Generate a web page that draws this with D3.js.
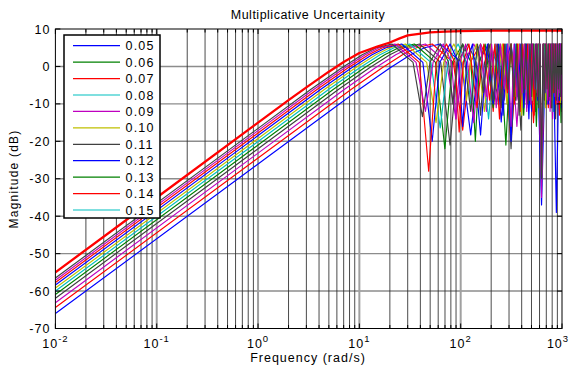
<!DOCTYPE html>
<html><head><meta charset="utf-8">
<script src="https://cdn.jsdelivr.net/npm/d3@7"></script>
<style>body{margin:0;background:#fff}svg{display:block}text{font-family:"Liberation Sans",Arial,Helvetica,sans-serif;fill:#000}</style>
</head><body><svg id="c" width="571" height="367"></svg>
<script>
// ---- data ----
const labels = ["0.05","0.06","0.07","0.08","0.09","0.10","0.11","0.12","0.13","0.14","0.15"];
const legendColors = ["#0000ff","#008000","#ff0000","#00bfbf","#bf00bf","#bfbf00","#404040","#0000ff","#008000","#ff0000","#00bfbf"];
const lineColors = ["#0000ff","#ff0000","#bf00bf","#404040","#008000","#00bfbf","#bfbf00","#0000ff","#ff0000","#bf00bf","#404040"];

const tau005 = [[0.01,-66.0],[10,-6.1],[20,-0.4],[32,3.1],[44,5.0],[62.83,6.0],[101.6,1.1],[125.7,-18.3],[149.6,1.1],[188.5,6.0],[227.4,1.1],[251.3,-14.8],[275.4,1.1],[314.2,6.0],[377.0,-10],[439.8,6.0],[502.7,-12],[565.5,6.0],[628.3,-37],[691.2,6.0],[754.0,-9],[816.8,6.0],[879.6,-39],[942.5,6.0],[1000,-11.5]];
const tau006 = [[0.01,-64.4],[8.333,-6.1],[16.67,-0.4],[26.67,3.1],[36.67,5.0],[52.36,6.0],[84.67,1.1],[104.7,-17],[124.7,1.1],[157.1,6.0],[189.5,1.1],[209.4,-12],[229.5,1.1],[261.8,6.0],[314.2,-20],[366.5,6.0],[418.9,-8],[471.2,6.0],[523.6,-15],[576.0,6.0],[628.3,-30],[680.7,6.0],[733.0,-11],[785.4,6.0],[837.8,-7],[890.1,6.0],[942.5,-13],[994.8,6.0],[1000,5.9]];
const tau007 = [[0.01,-63.1],[7.143,-6.1],[14.29,-0.4],[22.86,3.1],[31.43,5.0],[44.88,6.0],[72.57,1.1],[89.76,-14],[106.9,1.1],[134.6,6.0],[162.4,1.1],[179.5,-12],[196.7,1.1],[224.4,6.0],[269.3,-9],[314.2,6.0],[359.0,-16],[403.9,6.0],[448.8,-11],[493.7,6.0],[538.6,-7],[583.4,6.0],[628.3,-33],[673.2,6.0],[718.1,-10],[763.0,6.0],[807.8,-14],[852.7,6.0],[897.6,-8],[942.5,6.0],[987.4,-12],[1000,-1.4]];
const tau008 = [[0.01,-61.9],[6.25,-6.1],[12.5,-0.4],[20,3.1],[27.5,5.0],[39.27,6.0],[63.5,1.1],[78.54,-21],[93.5,1.1],[117.8,6.0],[142.1,1.1],[157.1,-13],[172.1,1.1],[196.3,6.0],[235.6,-10],[274.9,6.0],[314.2,-22],[353.4,6.0],[392.7,-17],[432.0,6.0],[471.2,-9],[510.5,6.0],[549.8,-12],[589.0,6.0],[628.3,-31],[667.6,6.0],[706.9,-8],[746.1,6.0],[785.4,-11],[824.7,6.0],[863.9,-14],[903.2,6.0],[942.5,-9],[981.7,6.0],[1000,3.5]];
const tau009 = [[0.01,-60.9],[5.556,-6.1],[11.11,-0.4],[17.78,3.1],[24.44,5.0],[34.91,6.0],[56.44,1.1],[69.81,-22],[83.11,1.1],[104.7,6.0],[126.3,1.1],[139.6,-20],[153.0,1.1],[174.5,6.0],[209.4,-11],[244.3,6.0],[279.3,-21],[314.2,6.0],[349.1,-9],[384.0,6.0],[418.9,-13],[453.8,6.0],[488.7,-7],[523.6,6.0],[558.5,-16],[593.4,6.0],[628.3,-27],[663.2,6.0],[698.1,-10],[733.0,6.0],[768.0,-8],[802.9,6.0],[837.8,-12],[872.7,6.0],[907.6,-9],[942.5,6.0],[977.4,-15],[1000,4.6]];
const tau010 = [[0.01,-60.0],[5,-6.1],[10,-0.4],[16,3.1],[22,5.0],[31.42,6.0],[50.8,1.1],[62.83,-16.4],[74.8,1.1],[94.25,6.0],[113.7,1.1],[125.7,-10],[137.7,1.1],[157.1,6.0],[188.5,-14],[219.9,6.0],[251.3,-8],[282.7,6.0],[314.2,-18],[345.6,6.0],[377.0,-11],[408.4,6.0],[439.8,-7],[471.2,6.0],[502.7,-9],[534.1,6.0],[565.5,-6],[596.9,6.0],[628.3,-34],[659.7,6.0],[691.2,-9],[722.6,6.0],[754.0,-6],[785.4,6.0],[816.8,-12],[848.2,6.0],[879.6,-8],[911.1,6.0],[942.5,-7],[973.9,6.0],[1000,-5.6]];
const tau011 = [[0.01,-59.2],[4.545,-6.1],[9.091,-0.4],[14.55,3.1],[20.0,5.0],[28.56,6.0],[46.18,1.1],[57.12,-15],[68.0,1.1],[85.68,6.0],[103.4,1.1],[114.2,-9],[125.2,1.1],[142.8,6.0],[171.4,-12],[199.9,6.0],[228.5,-6],[257.0,6.0],[285.6,-10],[314.2,6.0],[342.7,-8],[371.3,6.0],[399.8,-13],[428.4,6.0],[457.0,-5],[485.5,6.0],[514.1,-9],[542.6,6.0],[571.2,-7],[599.8,6.0],[628.3,-29],[656.9,6.0],[685.4,-11],[714.0,6.0],[742.6,-6],[771.1,6.0],[799.7,-9],[828.2,6.0],[856.8,-5],[885.4,6.0],[913.9,-8],[942.5,6.0],[971.0,-10],[999.6,6.0],[1000,6.0]];
const tau012 = [[0.01,-58.4],[4.167,-6.1],[8.333,-0.4],[13.33,3.1],[18.33,5.0],[26.18,6.0],[42.33,1.1],[52.36,-20],[62.33,1.1],[78.54,6.0],[94.75,1.1],[104.7,-16],[114.8,1.1],[130.9,6.0],[157.1,-18.3],[183.3,6.0],[209.4,-10],[235.6,6.0],[261.8,-13],[288.0,6.0],[314.2,-20],[340.3,6.0],[366.5,-8],[392.7,6.0],[418.9,-11],[445.1,6.0],[471.2,-14],[497.4,6.0],[523.6,-6],[549.8,6.0],[576.0,-9],[602.1,6.0],[628.3,-32],[654.5,6.0],[680.7,-7],[706.9,6.0],[733.0,-10],[759.2,6.0],[785.4,-8],[811.6,6.0],[837.8,-12],[863.9,6.0],[890.1,-6],[916.3,6.0],[942.5,-9],[968.7,6.0],[994.8,-11],[1000,-4.3]];
const tau013 = [[0.01,-57.7],[3.846,-6.1],[7.692,-0.4],[12.31,3.1],[16.92,5.0],[24.17,6.0],[39.08,1.1],[48.33,-28],[57.54,1.1],[72.5,6.0],[87.46,1.1],[96.66,-17.5],[105.9,1.1],[120.8,6.0],[145.0,-11],[169.2,6.0],[193.3,-9],[217.5,6.0],[241.7,-14],[265.8,6.0],[290.0,-7],[314.2,6.0],[338.3,-10],[362.5,6.0],[386.7,-12],[410.8,6.0],[435.0,-6],[459.2,6.0],[483.3,-9],[507.5,6.0],[531.7,-13],[555.8,6.0],[580.0,-8],[604.2,6.0],[628.3,-30],[652.5,6.0],[676.6,-6],[700.8,6.0],[725.0,-9],[749.1,6.0],[773.3,-11],[797.5,6.0],[821.6,-7],[845.8,6.0],[870.0,-10],[894.1,6.0],[918.3,-6],[942.5,6.0],[966.6,-8],[990.8,6.0],[1000,4.4]];
const tau014 = [[0.01,-57.1],[3.571,-6.1],[7.143,-0.4],[11.43,3.1],[15.71,5.0],[22.44,6.0],[36.29,1.1],[44.88,-12],[53.43,1.1],[67.32,6.0],[81.21,1.1],[89.76,-14],[98.36,1.1],[112.2,6.0],[134.6,-15],[157.1,6.0],[179.5,-8],[202.0,6.0],[224.4,-11],[246.8,6.0],[269.3,-6],[291.7,6.0],[314.2,-16],[336.6,6.0],[359.0,-9],[381.5,6.0],[403.9,-7],[426.4,6.0],[448.8,-12],[471.2,6.0],[493.7,-10],[516.1,6.0],[538.6,-6],[561.0,6.0],[583.4,-8],[605.9,6.0],[628.3,-35],[650.8,6.0],[673.2,-7],[695.6,6.0],[718.1,-9],[740.5,6.0],[763.0,-12],[785.4,6.0],[807.8,-6],[830.3,6.0],[852.7,-8],[875.2,6.0],[897.6,-10],[920.0,6.0],[942.5,-7],[964.9,6.0],[987.4,-9],[1000,3.8]];
const tau015 = [[0.01,-56.5],[3.333,-6.1],[6.667,-0.4],[10.67,3.1],[14.67,5.0],[20.94,6.0],[33.87,1.1],[41.89,-13.4],[49.87,1.1],[62.83,6.0],[75.8,1.1],[83.78,-10],[91.8,1.1],[104.7,6.0],[125.7,-12],[146.6,6.0],[167.6,-7],[188.5,6.0],[209.4,-9],[230.4,6.0],[251.3,-11],[272.3,6.0],[293.2,-6],[314.2,6.0],[335.1,-8],[356.0,6.0],[377.0,-13],[397.9,6.0],[418.9,-7],[439.8,6.0],[460.8,-10],[481.7,6.0],[502.7,-8],[523.6,6.0],[544.5,-6],[565.5,6.0],[586.4,-11],[607.4,6.0],[628.3,-30],[649.3,6.0],[670.2,-9],[691.2,6.0],[712.1,-6],[733.0,6.0],[754.0,-8],[774.9,6.0],[795.9,-11],[816.8,6.0],[837.8,-7],[858.7,6.0],[879.6,-9],[900.6,6.0],[921.5,-6],[942.5,6.0],[963.4,-8],[984.4,6.0],[1000,-2.2]];
const bound = [[0.01,-55.0],[0.1,-35.0],[1,-15.0],[2,-9.0],[3,-5.6],[5,-1.4],[7,1.2],[10,3.6],[15,5.3],[20,6.4],[25,7.5],[30,8.3],[50,9.1],[70,9.3],[100,9.45],[200,9.54],[1000,9.55]];

const yTicks = [10,0,-10,-20,-30,-40,-50,-60,-70];
const xDecades = [-2,-1,0,1,2,3];
const series = [tau005,tau006,tau007,tau008,tau009,tau010,tau011,tau012,tau013,tau014,tau015];

// ---- drawing ----
const svg = d3.select("#c");
const L = 55.4, R = 562, T = 29, B = 328.5;
const x = d3.scaleLog().domain([0.01,1000]).range([L,R]);
const y = d3.scaleLinear().domain([-70,10]).range([B,T]);

svg.append("defs").append("clipPath").attr("id","pa")
  .append("rect").attr("x",L).attr("y",T-2).attr("width",R-L).attr("height",B-T+2);

const minors = [];
for (let d=-2; d<3; d++) for (let k=2; k<=9; k++) minors.push(k*Math.pow(10,d));
const majors = xDecades.map(d=>Math.pow(10,d));

const g = svg.append("g");
g.selectAll(".hg").data(yTicks.filter(v=>v>-70 && v<10)).join("line")
  .attr("x1",L).attr("x2",R).attr("y1",d=>y(d)).attr("y2",d=>y(d))
  .attr("stroke","#8c8c8c").attr("stroke-width",1.4);
g.selectAll(".vm").data(minors).join("line")
  .attr("x1",d=>x(d)).attr("x2",d=>x(d)).attr("y1",T).attr("y2",B)
  .attr("stroke","#2a2a2a").attr("stroke-width",0.85);
g.selectAll(".vM").data(majors.slice(1,-1)).join("line")
  .attr("x1",d=>x(d)).attr("x2",d=>x(d)).attr("y1",T).attr("y2",B)
  .attr("stroke","#a0a0a0").attr("stroke-width",2);

const line = d3.line().x(d=>x(d[0])).y(d=>y(d[1]));
const lg = svg.append("g").attr("clip-path","url(#pa)");
series.forEach((s,i)=>{
  lg.append("path").attr("d",line(s)).attr("fill","none")
    .attr("stroke",lineColors[i]).attr("stroke-width",1.15).attr("stroke-linejoin","round");
});
lg.append("path").attr("d",line(bound)).attr("fill","none")
  .attr("stroke","#ff0000").attr("stroke-width",2.3).attr("stroke-linejoin","round");

const ax = svg.append("g");
ax.append("rect").attr("x",L).attr("y",T).attr("width",R-L).attr("height",B-T)
  .attr("fill","none").attr("stroke","#000").attr("stroke-width",1);
ax.selectAll(".tb").data(minors.concat(majors)).join("line")
  .attr("x1",d=>x(d)).attr("x2",d=>x(d)).attr("y1",B).attr("y2",d=>B-(majors.includes(d)?5:3.5))
  .attr("stroke","#000").attr("stroke-width",1);
ax.selectAll(".tt").data(minors.concat(majors)).join("line")
  .attr("x1",d=>x(d)).attr("x2",d=>x(d)).attr("y1",T).attr("y2",d=>T+(majors.includes(d)?5:3.5))
  .attr("stroke","#000").attr("stroke-width",1);
ax.selectAll(".tl").data(yTicks).join("line")
  .attr("x1",L).attr("x2",L+5).attr("y1",d=>y(d)).attr("y2",d=>y(d)).attr("stroke","#000");
ax.selectAll(".tr").data(yTicks).join("line")
  .attr("x1",R).attr("x2",R-5).attr("y1",d=>y(d)).attr("y2",d=>y(d)).attr("stroke","#000");

ax.selectAll(".yl").data(yTicks).join("text")
  .attr("x",L-5).attr("y",d=>y(d)+4.5).attr("text-anchor","end")
  .attr("font-size",12.5).attr("letter-spacing",1).text(d=>d);
const xl = ax.selectAll(".xl").data(xDecades).join("text")
  .attr("x",d=>Math.min(x(Math.pow(10,d)), 558)).attr("y",348).attr("text-anchor","middle").attr("font-size",12.5).attr("letter-spacing",1);
xl.append("tspan").text("10");
xl.append("tspan").attr("dy",-6).attr("font-size",9.5).text(d=>d);

svg.append("text").attr("x",308).attr("y",19).attr("text-anchor","middle").attr("font-size",12.5).attr("letter-spacing",0.5)
  .text("Multiplicative Uncertainity");
svg.append("text").attr("x",308).attr("y",362).attr("text-anchor","middle").attr("font-size",12.5).attr("letter-spacing",1)
  .text("Frequency (rad/s)");
svg.append("text").attr("transform","translate(18,179) rotate(-90)").attr("text-anchor","middle").attr("font-size",12).attr("letter-spacing",1.2)
  .text("Magnitude (dB)");

const lgd = svg.append("g");
lgd.append("rect").attr("x",64).attr("y",35).attr("width",96).attr("height",183)
  .attr("fill","#fff").attr("stroke","#000").attr("stroke-width",1.5);
labels.forEach((lab,i)=>{
  const yy = 45.7 + i*16.43;
  lgd.append("line").attr("x1",73).attr("x2",120).attr("y1",yy).attr("y2",yy)
    .attr("stroke",legendColors[i]).attr("stroke-width",1.2);
  lgd.append("text").attr("x",125.5).attr("y",yy+4.6).attr("font-size",12.5).attr("letter-spacing",1.2).text(lab);
});
</script></body></html>
